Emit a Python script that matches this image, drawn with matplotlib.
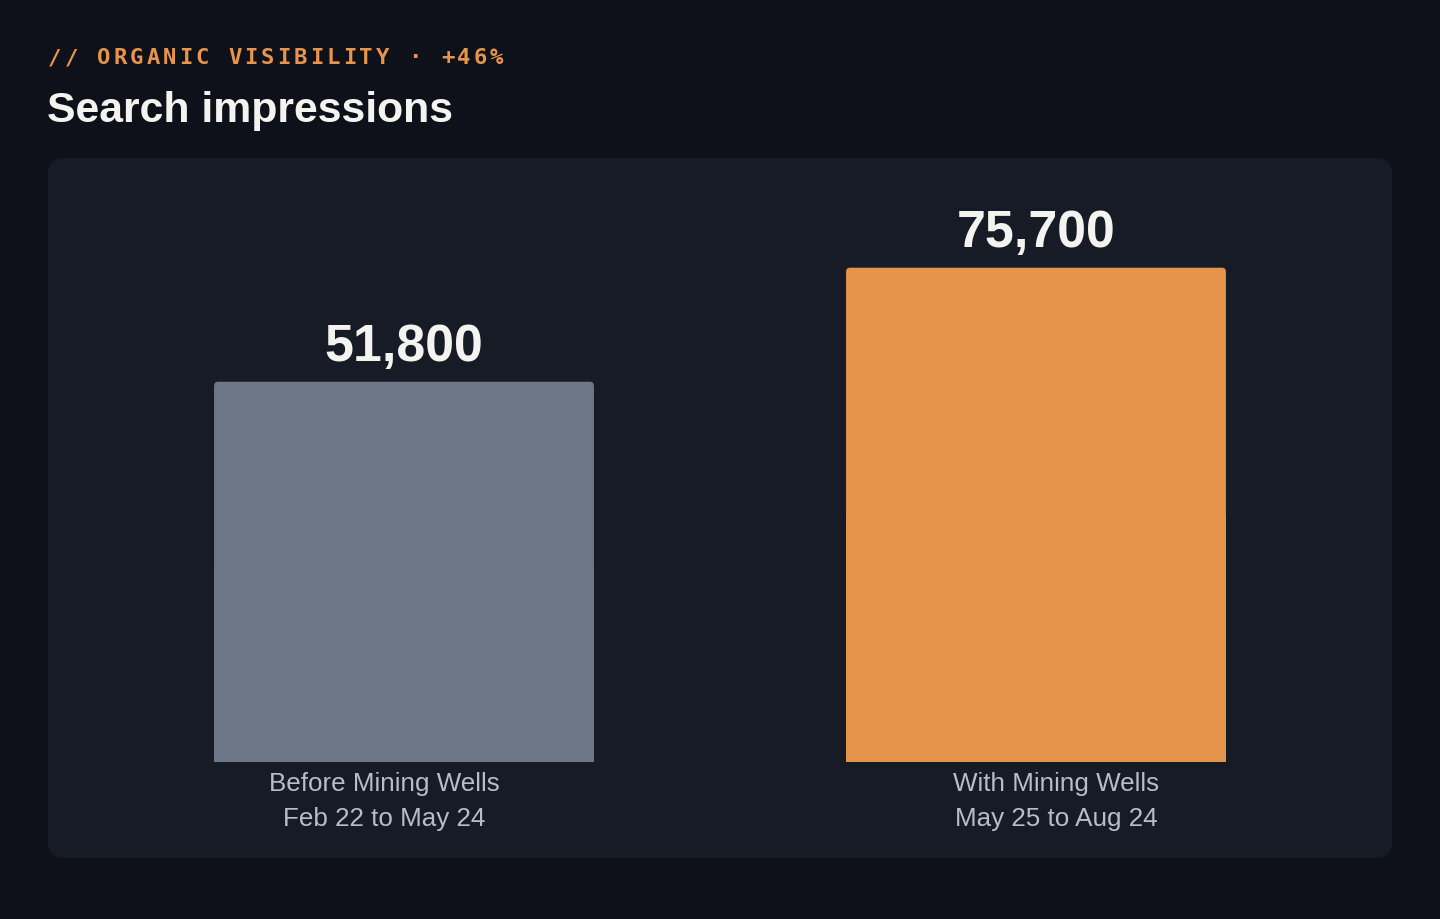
import numpy as np
import matplotlib
matplotlib.use('Agg')
import matplotlib.pyplot as plt
from matplotlib.patches import FancyBboxPatch, Rectangle

# data
categories = ['Before Mining Wells\nFeb 22 to May 24', 'With Mining Wells\nMay 25 to Aug 24']
impressions = [51800, 75700]
value_labels = ['51,800', '75,700']
bar_colors = ['#6e7788', '#e6944c']

kicker = '// ORGANIC VISIBILITY · +46%'
title = 'Search impressions'

BG = '#0e1119'
PANEL = '#161b26'
ORANGE = '#e8944b'
WHITE = '#f4f3ef'
MUTED = '#b9bdc8'

W, H = 1440, 920
fig = plt.figure(figsize=(W / 100, H / 100), dpi=100, facecolor=BG)

# background layer in pixel coords
bg = fig.add_axes([0, 0, 1, 1])
bg.set_xlim(0, W)
bg.set_ylim(H, 0)
bg.axis('off')
bg.add_patch(FancyBboxPatch((48, 159), 1344, 700, boxstyle='round,pad=0,rounding_size=16',
                            fc=PANEL, ec='none'))

# kicker with letter spacing
pitch = 16.37
for i, ch in enumerate(kicker):
    bg.text(48 + i * pitch, 64, ch, family='DejaVu Sans Mono', weight='bold',
            fontsize=16, color=ORANGE, ha='left', va='baseline')

bg.text(47, 122, title, family='Liberation Sans', weight='bold', fontsize=30.8,
        color=WHITE, ha='left', va='baseline')

# chart axes
ax_top, ax_bot = 169, 763
ax = fig.add_axes([48 / W, (H - ax_bot) / H, 1344 / W, (ax_bot - ax_top) / H])
ax.patch.set_alpha(0)
x = np.arange(len(categories))
xmin, xmax = -0.5633, 1.5633
ax.set_xlim(xmin, xmax)
y_floor = -27900
ax.set_ylim(y_floor, 96600)
for s in ax.spines.values():
    s.set_visible(False)
ax.set_yticks([])

bars = ax.bar(x, np.array(impressions) - y_floor, bottom=y_floor, width=0.601, color=bar_colors)

# rounded top corners
p0 = ax.transData.transform((0, 0))
p1 = ax.transData.transform((1, 1))
asp = (p1[0] - p0[0]) / (p1[1] - p0[1])
r = 4 / (p1[0] - p0[0])
for b in bars:
    bx, by, bw, bh = b.get_x(), b.get_y(), b.get_width(), b.get_height()
    col = b.get_facecolor()
    b.remove()
    ax.add_patch(FancyBboxPatch((bx, by), bw, bh, boxstyle=f'round,pad=0,rounding_size={r}',
                                mutation_aspect=asp, fc=col, ec='none', lw=0))
    ax.add_patch(Rectangle((bx, by), bw, bh / 2, fc=col, ec='none', lw=0))

for xi, v, lab in zip(x, impressions, value_labels):
    ax.annotate(lab, (xi, v), xytext=(0, 15.5), textcoords='offset points',
                ha='center', va='baseline', family='Liberation Sans', weight='bold',
                fontsize=37.4, color=WHITE)

# category labels sit at band centers
band = (xmax - xmin) / len(categories)
centers = [xmin + (i + 0.5) * band for i in range(len(categories))]
ax.set_xticks(centers)
ax.set_xticklabels(categories, family='Liberation Sans', fontsize=18.7, color=MUTED,
                   linespacing=1.6)
ax.tick_params(axis='x', length=0, pad=6.5)

fig.savefig('out.png', dpi=100, facecolor=BG)
